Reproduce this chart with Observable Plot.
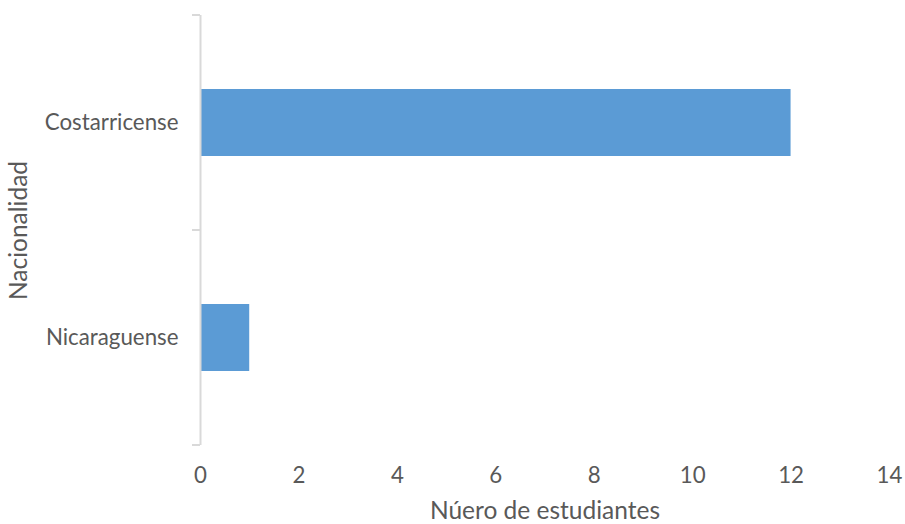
<!DOCTYPE html>
<html>
<head>
<meta charset="utf-8">
<script src="https://cdn.jsdelivr.net/npm/d3@7"></script>
<script src="https://cdn.jsdelivr.net/npm/@observablehq/plot@0.6"></script>
<style>
  html, body { margin: 0; padding: 0; background: #fff; }
  #chart svg { display: block; }
</style>
</head>
<body>
<div id="chart"></div>
<script>
const categories = ["Costarricense", "Nicaraguense"];
const values = [12, 1];
const xTicks = [0, 2, 4, 6, 8, 10, 12, 14];
const xTitle = "Núero de estudiantes";
const yTitle = "Nacionalidad";

const data = categories.map((c, i) => ({nacionalidad: c, n: values[i]}));

const font = "Lato, 'Open Sans', sans-serif";
const textColor = "#595959";

const plot = Plot.plot({
  width: 905,
  height: 524,
  marginTop: 15,
  marginBottom: 79,
  marginLeft: 200,
  marginRight: 16,
  style: {fontFamily: font, fontSize: "22px", background: "#fff", overflow: "visible"},
  x: {domain: [0, 14], ticks: xTicks},
  y: {domain: categories, paddingInner: 0.69, paddingOuter: 0.345},
  marks: [
    Plot.barX(data, {x: "n", y: "nacionalidad", fill: "#5b9bd5"}),
    Plot.ruleX([0], {stroke: "#d9d9d9", strokeWidth: 2}),
    Plot.axisX({ticks: xTicks, tickSize: 0, tickPadding: 22, fontSize: 22.3, fill: textColor, label: null}),
    Plot.axisY({tickSize: 0, tickPadding: 22, fontSize: 22.3, fill: textColor, label: null}),
    Plot.text([xTitle], {frameAnchor: "bottom", dy: 73, fontSize: 24.5, fill: textColor}),
    Plot.text([yTitle], {frameAnchor: "left", dx: -181, rotate: -90, textAnchor: "middle", fontSize: 24.5, fill: textColor})
  ]
});

// category boundary tick marks on the y axis, from the plot's own band scale
const ys = plot.scale("y");
const off = (ys.step - ys.bandwidth) / 2;
const bounds = categories.map(c => ys.apply(c) - off);
bounds.push(ys.apply(categories[categories.length - 1]) - off + ys.step);
const x0 = plot.scale("x").apply(0);
d3.select(plot).append("g")
  .selectAll("line").data(bounds).join("line")
  .attr("x1", x0 - 8).attr("x2", x0)
  .attr("y1", d => d).attr("y2", d => d)
  .attr("stroke", "#d9d9d9").attr("stroke-width", 2);

document.getElementById("chart").appendChild(plot);
</script>
</body>
</html>
